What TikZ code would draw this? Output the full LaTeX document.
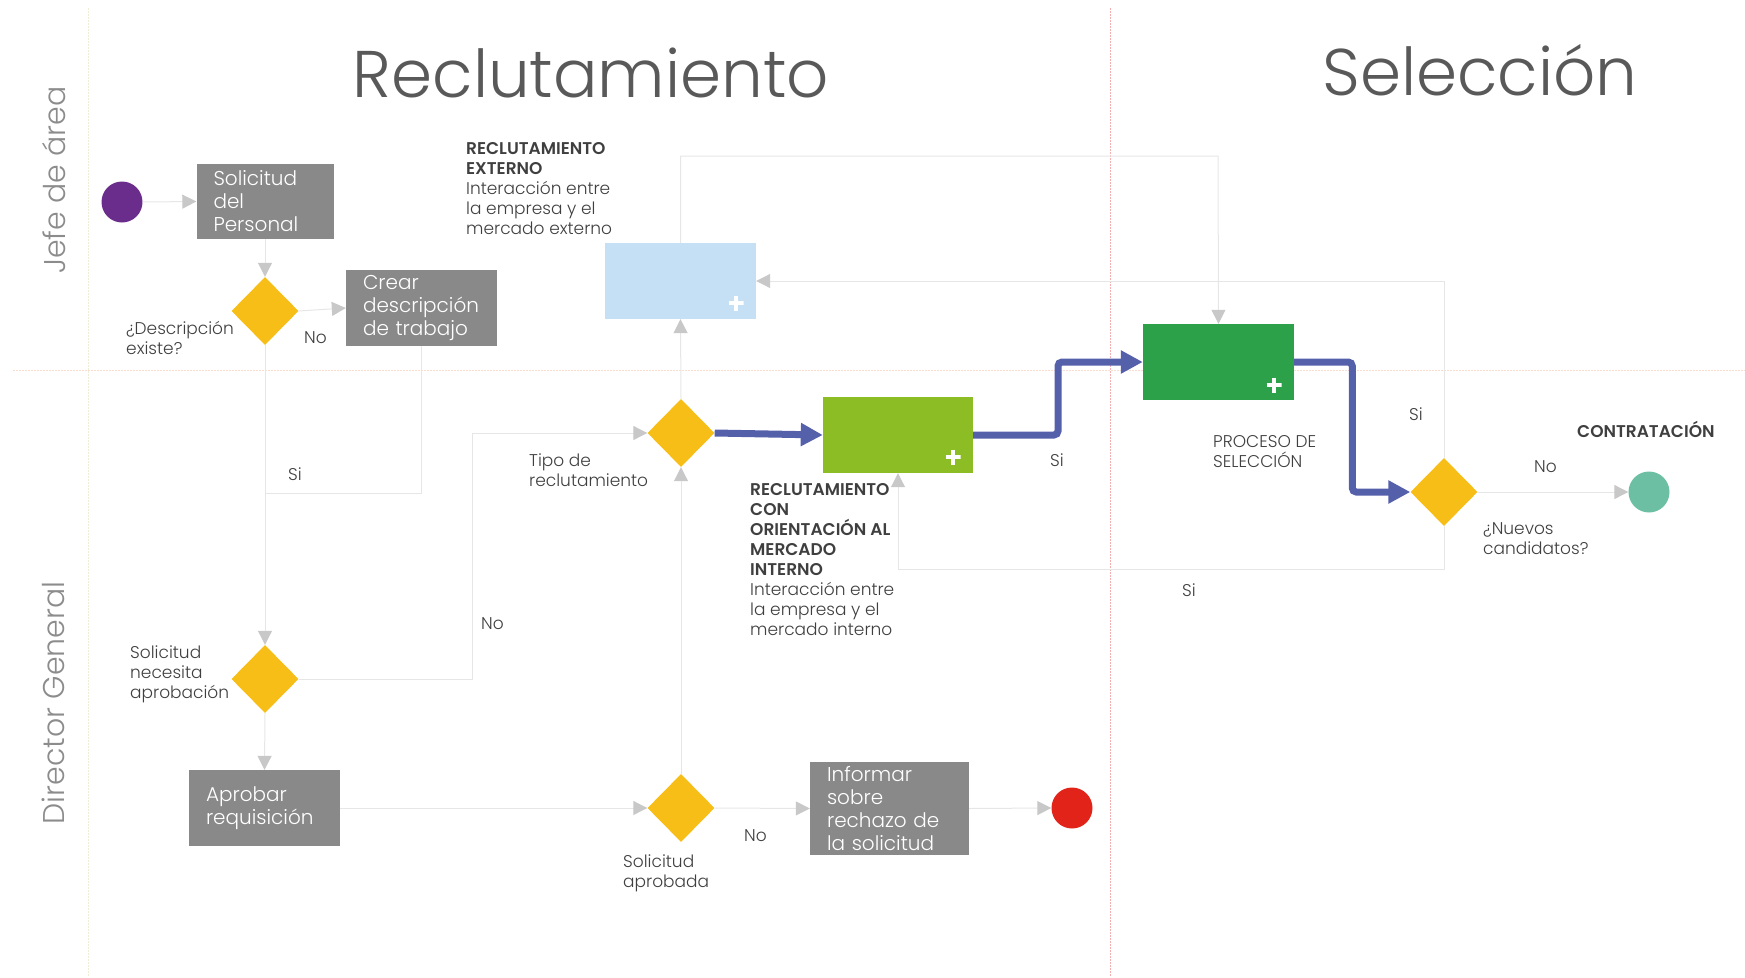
\documentclass[tikz,border=0pt]{standalone}
\usepackage{fontspec}
\setmainfont{Poppins Light}[BoldFont={Poppins SemiBold}]
\usetikzlibrary{arrows.meta,shapes.geometric,calc}
\definecolor{boxgray}{HTML}{898989}
\definecolor{dyellow}{HTML}{F6BE17}
\definecolor{linegray}{HTML}{E6E6E6}
\definecolor{tipgray}{HTML}{C8C8C8}
\definecolor{flowblue}{HTML}{5560AB}
\definecolor{txtgray}{HTML}{3F3F3F}
\definecolor{titlegray}{HTML}{595959}
\definecolor{lanegray}{HTML}{8C8C8C}
\definecolor{extblue}{HTML}{C5DFF4}
\definecolor{intgreen}{HTML}{8DBD24}
\definecolor{selgreen}{HTML}{2DA04A}
\definecolor{startpurple}{HTML}{6B2D8B}
\definecolor{endred}{HTML}{E2231A}
\definecolor{endteal}{HTML}{6DBFA3}
\definecolor{laneyellow}{HTML}{EEEDD6}
\definecolor{laneorange}{HTML}{FADDCF}
\definecolor{lanered}{HTML}{F4B0B0}
\begin{document}
\begin{tikzpicture}[x=1pt,y=-1pt,
  circ/.style={circle,minimum size=41pt,inner sep=0pt},
  gbox/.style={rectangle,fill=boxgray,text=white,font=\fontsize{20}{23}\selectfont,align=left,inner xsep=17pt,inner ysep=0pt},
  pbox/.style={rectangle,inner sep=0pt},
  dia/.style={diamond,fill=dyellow,minimum width=67pt,minimum height=68pt,inner sep=0pt},
  plusmark/.style={minimum size=15pt,inner sep=0pt,path picture={\draw[white,line width=3.8pt] (path picture bounding box.north) -- (path picture bounding box.south) (path picture bounding box.west) -- (path picture bounding box.east);}},
  lbl/.style={anchor=west,align=left,inner sep=0pt,font=\fontsize{17}{20}\selectfont,text=txtgray},
  titletext/.style={anchor=base,font=\fontsize{66}{70}\selectfont,text=titlegray,inner sep=0pt},
  lanetext/.style={rotate=90,font=\fontsize{30}{33}\selectfont,text=lanegray,inner sep=0pt},
  conn/.style={draw=linegray,line width=1pt,-{Triangle[length=14pt,width=14pt,color=tipgray]}},
  cline/.style={draw=linegray,line width=1pt},
  laneline/.style={line width=1pt,dash pattern=on 2pt off 1pt},
  bconn/.style={draw=flowblue,line width=7pt,rounded corners=4pt,-{Triangle[length=22pt,width=22pt,color=flowblue]}}
]
\useasboundingbox (0,0) rectangle (1745,977);
% lanes
\draw[laneline,laneyellow] (88,8) -- (88,977);
\draw[laneline,lanered] (1110,8) -- (1110,977);
\draw[laneline,laneorange] (13,370) -- (1745,370);
% titles
\node[titletext] (t1) at (591,97) {Reclutamiento};
\node[titletext] (t2) at (1480,95) {Selección};
\node[lanetext] (l1) at (54,180) {Jefe de área};
\node[lanetext] (l2) at (53,703) {Director General};
% nodes
\node[circ,fill=startpurple] (start) at (122,202) {};
\node[gbox,minimum width=137pt,minimum height=75pt,text width=103pt] (sol) at (265,201.5) {Solicitud\\del\\Personal};
\node[dia] (d1) at (265,311) {};
\node[gbox,minimum width=151pt,minimum height=76pt,text width=117pt] (crear) at (421.5,308) {Crear\\descripción\\de trabajo};
\node[dia] (d2) at (265,679) {};
\node[gbox,minimum width=151pt,minimum height=76pt,text width=117pt] (apro) at (264.5,808) {Aprobar\\requisición};
\node[dia] (d3) at (681,808) {};
\node[gbox,minimum width=159pt,minimum height=93pt,text width=125pt] (inf) at (889.5,808.5) {Informar\\sobre\\rechazo de\\la solicitud};
\node[circ,fill=endred] (fin) at (1072,808) {};
\node[dia] (tipo) at (681,433) {};
\node[pbox,fill=extblue,minimum width=151pt,minimum height=76pt] (ext) at (680.5,281) {};
\node[pbox,fill=intgreen,minimum width=150pt,minimum height=76pt] (int) at (898,435) {};
\node[pbox,fill=selgreen,minimum width=151pt,minimum height=76pt] (sel) at (1218.5,362) {};
\node[plusmark] (p1) at ($(ext.south east)+(-20,-16)$) {};
\node[plusmark] (p2) at ($(int.south east)+(-20,-16)$) {};
\node[plusmark] (p3) at ($(sel.south east)+(-20,-15)$) {};
\node[dia] (d4) at (1444,492) {};
\node[circ,fill=endteal] (fin2) at (1649,492) {};
% coordinates
\coordinate (j1) at (265,493);
\coordinate (k1) at (472,433);
\coordinate (k3) at (1218,156);
\coordinate (k5) at (1444,569);
% connectors
\draw[conn] (start.east) -- (sol.west);
\draw[conn] (sol.south) -- (d1.north);
\draw[conn] (d1.east) -- (crear.west);
\draw[cline] (crear.south) |- (j1);
\draw[conn] (d1.south) -- (d2.north);
\draw[conn] (d2.east) -| (k1) -- (tipo.west);
\draw[conn] (d2.south) -- (apro.north);
\draw[conn] (apro.east) -- (d3.west);
\draw[conn] (d3.north) -- (tipo.south);
\draw[conn] (d3.east) -- (inf.west);
\draw[conn] (inf.east) -- (fin.west);
\draw[conn] (tipo.north) -- (ext.south);
\draw[conn] (ext.north) |- (k3) -- (sel.north);
\draw[conn] (d4.north) |- (ext.east);
\draw[conn] (d4.south) -- (k5) -| (int.south);
\draw[conn] (d4.east) -- (fin2.west);
\draw[bconn] (tipo.east) -- (int.west);
\draw[bconn] (int.east) -| ($(int.east)!.5!(sel.west)$) |- (sel.west);
\draw[bconn] (sel.east) -| ($(sel.east)!.5!(d4.west)$) |- (d4.west);
% labels
\node[lbl] (q1) at (126,337.5) {¿Descripción\\existe?};
\node[lbl] (no1) at (304,338) {No};
\node[lbl] (si1) at (288,474) {Si};
\node[lbl] (q2) at (130,674) {Solicitud\\necesita\\aprobación};
\node[lbl] (no2) at (481,624) {No};
\node[lbl] (q3) at (623,873) {Solicitud\\aprobada};
\node[lbl] (no3) at (744,836) {No};
\node[lbl] (q4) at (529,470) {Tipo de\\reclutamiento};
\node[lbl] (extl) at (466,189) {\textbf{RECLUTAMIENTO}\\\textbf{EXTERNO}\\Interacción entre\\la empresa y el\\mercado externo};
\node[lbl] (intl) at (750,559.5) {\textbf{RECLUTAMIENTO}\\\textbf{CON}\\\textbf{ORIENTACIÓN AL}\\\textbf{MERCADO}\\\textbf{INTERNO}\\Interacción entre\\la empresa y el\\mercado interno};
\node[lbl] (si2) at (1050,460) {Si};
\node[lbl] (selt) at (1213,451.5) {PROCESO DE\\SELECCIÓN};
\node[lbl] (si3) at (1409,414) {Si};
\node[lbl] (si4) at (1182,590) {Si};
\node[lbl] (cont) at (1577,429) {\textbf{CONTRATACIÓN}};
\node[lbl] (no4) at (1534,467) {No};
\node[lbl] (q5) at (1483,538.5) {¿Nuevos\\candidatos?};
\end{tikzpicture}
\end{document}
